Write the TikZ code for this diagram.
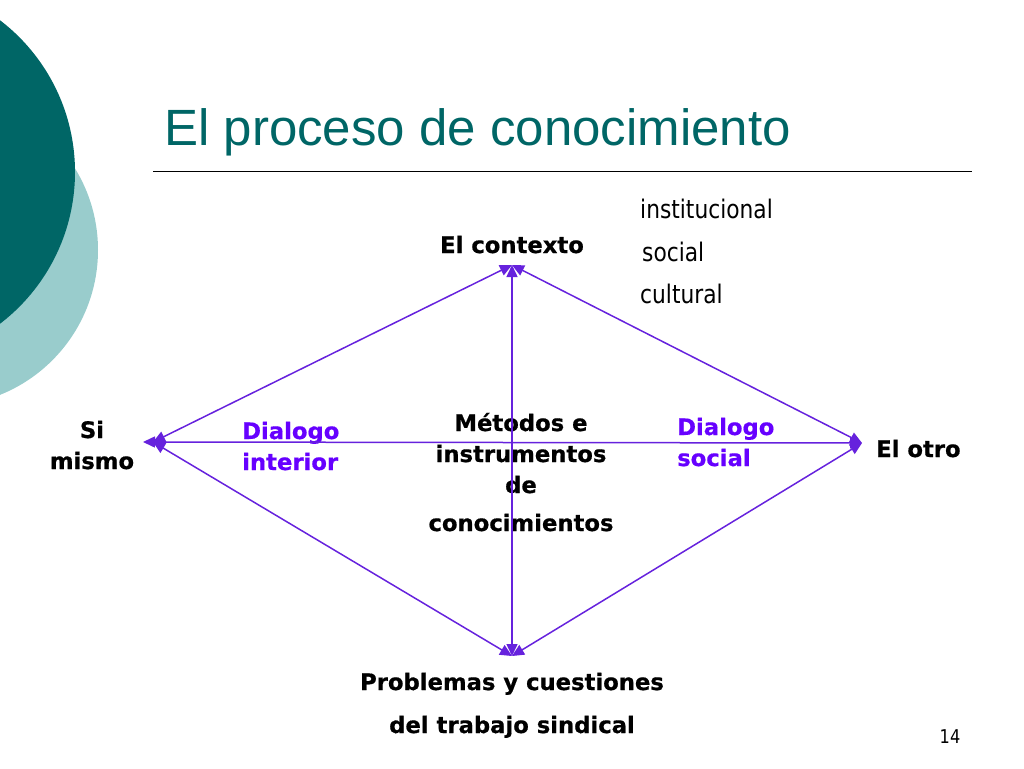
\documentclass[tikz,border=0pt]{standalone}
\usepackage{fontspec}
\setmainfont{DejaVu Sans}[BoldFeatures={FakeBold=0.6}]
\newfontfamily\titlefont{Liberation Sans}
\newfontfamily\nivelfont{DejaVu Sans}[FakeStretch=0.85]
\usetikzlibrary{arrows.meta}
\definecolor{tealdark}{RGB}{0,102,102}
\definecolor{teallight}{RGB}{153,204,204}
\definecolor{violetline}{RGB}{102,34,221}
\definecolor{violettext}{RGB}{102,0,255}
\begin{document}
\begin{tikzpicture}[x=1pt,y=-1pt,
  arista/.style={violetline,line width=1.5pt,{Triangle[length=12pt,width=11pt]}-{Triangle[length=12pt,width=11pt]}},
  etiq/.style={font=\fontsize{22.7}{31}\selectfont\bfseries,inner sep=0pt,align=center},
  dialogo/.style={etiq,text=violettext,align=left},
  nivel/.style={font=\nivelfont\fontsize{25.6}{30}\selectfont,inner sep=0pt,anchor=base west}]
\useasboundingbox (0,0) rectangle (1024,768);
\begin{scope}
\clip (0,0) rectangle (1024,768);
\fill[teallight] (-58,250) circle[radius=156pt];
\fill[tealdark] (-116,172) circle[radius=191pt];
\end{scope}
% titulo
\node[anchor=base west,inner sep=0pt,text=tealdark,font=\titlefont\fontsize{51}{60}\selectfont] (titulo) at (164,145) {El proceso de conocimiento};
\coordinate (r1) at (153,171);
\coordinate (r2) at (972,171);
\draw[line width=0.9pt] (r1)--(r2);
% vertices
\coordinate (ctx) at (512,265);
\coordinate (yo) at (153,442);
\coordinate (otro) at (862,443);
\coordinate (prob) at (512,656);
% textos
\node[etiq,anchor=base] (contexto) at (512,253) {El contexto};
\node[nivel] (inst) at (640,218) {institucional};
\node[nivel] (soc) at (642,261) {social};
\node[nivel] (cult) at (640,303) {cultural};
\node[etiq,anchor=base] (simismo) at (92,469) {Si\\mismo};
\node[dialogo,anchor=base west] (dint) at (242,470) {Dialogo\\interior};
\node[dialogo,anchor=base west] (dsoc) at (677,466) {Dialogo\\social};
\node[etiq,anchor=base] (metodos) at (521,531) {Métodos e\\instrumentos\\de\\[7pt]conocimientos};
\node[etiq,anchor=base west] (elotro) at (876,457) {El otro};
\node[etiq,anchor=base] (problemas) at (512,733) {Problemas y cuestiones\\[12pt]del trabajo sindical};
\node[anchor=base,inner sep=0pt,font=\nivelfont\fontsize{19}{22}\selectfont] (pag) at (950,743) {14};
% aristas
\draw[arista] (ctx)--(yo);
\draw[arista] (ctx)--(otro);
\draw[arista] (prob)--(yo);
\draw[arista] (prob)--(otro);
\draw[arista,shorten <=-10pt] (yo)--(otro);
\draw[arista] (ctx)--(prob);
\end{tikzpicture}
\end{document}
